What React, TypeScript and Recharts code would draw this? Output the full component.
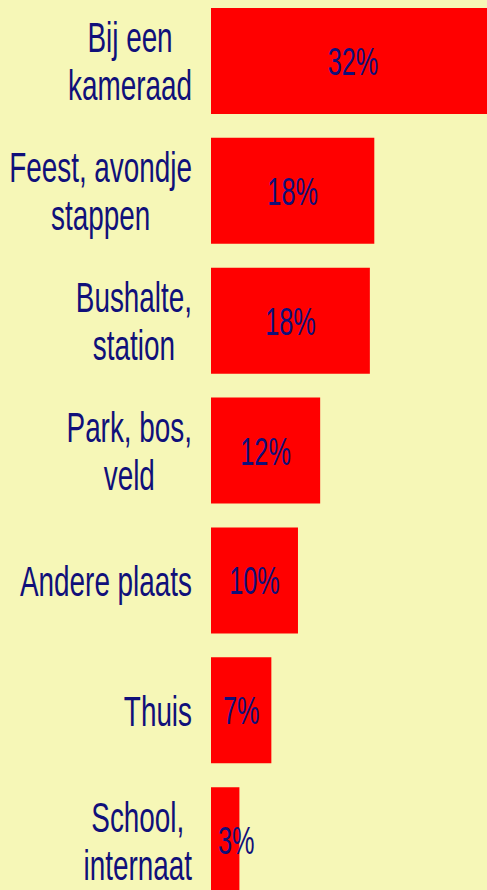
import React from "react";
import { Bar, BarChart, LabelList, XAxis, YAxis } from "recharts";

const places = [
  "Bij een\nkameraad",
  "Feest, avondje\nstappen",
  "Bushalte,\nstation",
  "Park, bos,\nveld",
  "Andere plaats",
  "Thuis",
  "School,\ninternaat",
];
const shares = [32, 18.4, 17.9, 12.3, 9.8, 6.8, 3.2];

const data = places.map((place, i) => ({ place, share: shares[i] }));

const FONT = '"Liberation Sans", Arial, sans-serif';
const SIZE = 43;
const NAVY = "#10107a";

let ctx: CanvasRenderingContext2D | null = null;
function textWidth(s: string, size: number) {
  if (!ctx) ctx = document.createElement("canvas").getContext("2d");
  if (!ctx) return s.length * size * 0.5;
  ctx.font = `${size}px ${FONT}`;
  return ctx.measureText(s).width;
}

// the reference face is a narrow one: squeeze so "Andere plaats" is ~172px wide
const squeeze = () => 172 / textWidth("Andere plaats", SIZE);

function PlaceTick(props: any) {
  const { x, y, payload } = props;
  const lines = String(payload.value).split("\n");
  const widest = Math.max(...lines.map((l) => textWidth(l, SIZE)));
  const lh = 48;
  const cap = 31;
  const first = cap / 2 - ((lines.length - 1) * lh) / 2;
  return (
    <g transform={`translate(${x - 11}, ${y}) scale(${squeeze()}, 1)`}>
      {lines.map((l, i) => (
        <text
          key={i}
          x={-widest / 2}
          y={first + i * lh}
          textAnchor="middle"
          fill={NAVY}
          fontFamily={FONT}
          fontSize={SIZE}
        >
          {l}
        </text>
      ))}
    </g>
  );
}

function PctLabel(props: any) {
  const { x, y, width, height, value } = props;
  const txt = `${Math.round(value)}%`;
  const size = 39;
  const sq = squeeze();
  const w = textWidth(txt, size) * sq;
  const cx = Math.max(x + width / 2, x + 7 + w / 2);
  return (
    <g transform={`translate(${cx}, ${y + height / 2 + 14}) scale(${sq}, 1)`}>
      <text textAnchor="middle" fill={NAVY} fontFamily={FONT} fontSize={size}>
        {txt}
      </text>
    </g>
  );
}

export default function App() {
  return (
    <div
      style={{
        position: "absolute",
        top: 0,
        left: 0,
        width: 487,
        height: 890,
        overflow: "hidden",
        background: "#f6f7b7",
      }}
    >
      <div style={{ position: "relative", top: -4 }}>
        <BarChart
          layout="vertical"
          width={495}
          height={909}
          data={data}
          margin={{ top: 0, right: 0, bottom: 0, left: 0 }}
        >
          <XAxis type="number" hide domain={[0, 32]} />
          <YAxis
            type="category"
            dataKey="place"
            width={211}
            axisLine={false}
            tickLine={false}
            tick={<PlaceTick />}
            interval={0}
          />
          <Bar dataKey="share" fill="#ff0000" barSize={106} isAnimationActive={false}>
            <LabelList dataKey="share" content={<PctLabel />} />
          </Bar>
        </BarChart>
      </div>
    </div>
  );
}
